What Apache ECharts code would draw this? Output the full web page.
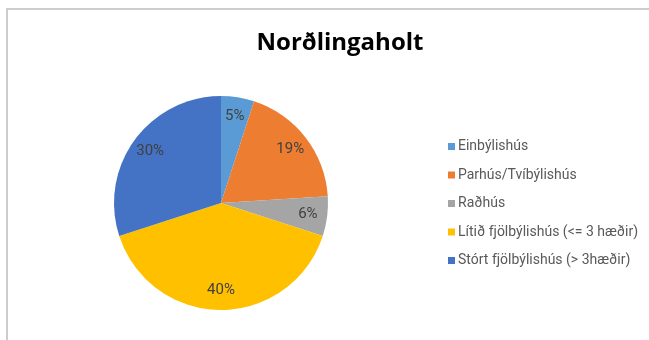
<!DOCTYPE html>
<html>
<head>
<meta charset="utf-8">
<script src="https://cdn.jsdelivr.net/npm/echarts@6/dist/echarts.min.js"></script>
<style>
  html, body { margin: 0; padding: 0; background: #fff; }
  #frame {
    position: absolute; left: 6px; top: 8px; right: 0; bottom: 0;
    border-top: 2px solid #cdcdcd; border-left: 2px solid #cdcdcd;
  }
  #chart { position: absolute; left: 0; top: 0; width: 649px; height: 340px; }
</style>
</head>
<body>
<div id="frame"></div>
<div id="chart"></div>
<script>
// Housing types in Norðlingaholt, share of dwellings (%)
const chartTitle = 'Norðlingaholt';
const categories = [
  'Einbýlishús',
  'Parhús/Tvíbýlishús',
  'Raðhús',
  'Lítið fjölbýlishús (<= 3 hæðir)',
  'Stórt fjölbýlishús (> 3hæðir)'
];
const shares = [5, 19, 6, 40, 30];
const palette = ['#5B9BD5', '#ED7D31', '#A5A5A5', '#FFC000', '#4472C4'];

const PIE_CX = 221, PIE_CY = 203, PIE_R = 107;
// push the inside labels out from half radius towards the rim
const LABEL_PUSH = 0.55;

const chart = echarts.init(document.getElementById('chart'), null, { renderer: 'canvas' });
chart.setOption({
  backgroundColor: 'transparent',
  animation: false,
  color: palette,
  title: {
    text: chartTitle,
    left: 335, top: 26, textAlign: 'center',
    textStyle: { fontFamily: 'Open Sans', fontWeight: 'bold', fontSize: 24, color: '#000' }
  },
  legend: {
    orient: 'vertical',
    left: 443, top: 134,
    itemWidth: 7, itemHeight: 7, itemGap: 13.5,
    icon: 'rect',
    textStyle: { fontFamily: 'Roboto', fontSize: 14, color: '#595959', lineHeight: 15, padding: [0, 0, 0, -2] },
    data: categories
  },
  series: [{
    type: 'pie',
    center: [PIE_CX, PIE_CY],
    radius: PIE_R,
    startAngle: 90,
    clockwise: true,
    label: {
      position: 'inside',
      formatter: p => p.value + '%',
      fontFamily: 'Roboto', fontSize: 15, color: '#404040'
    },
    labelLine: { show: false },
    itemStyle: { borderWidth: 0 },
    emphasis: { disabled: true },
    labelLayout: function (params) {
      const r = params.labelRect;
      const lx = r.x + r.width / 2, ly = r.y + r.height / 2;
      return { dx: (lx - PIE_CX) * LABEL_PUSH, dy: (ly - PIE_CY) * LABEL_PUSH };
    },
    data: categories.map((name, i) => ({ name, value: shares[i] }))
  }]
});
</script>
</body>
</html>
